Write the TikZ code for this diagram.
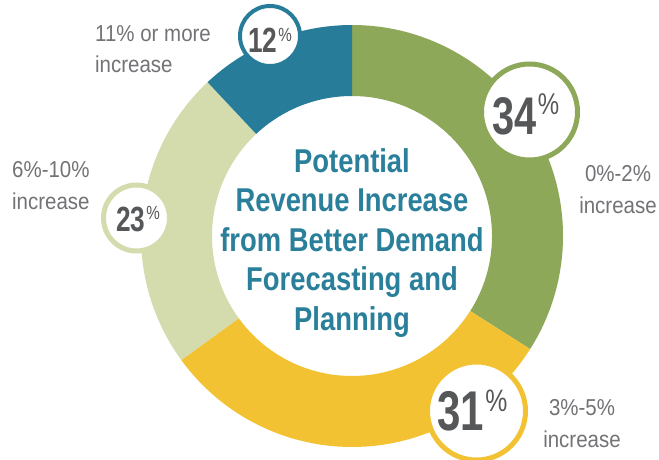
\documentclass[tikz,border=0pt]{standalone}
\usepackage{fontspec}
\setmainfont{Liberation Sans}
\newfontfamily\labfont{Liberation Sans}[FakeStretch=0.89]
\newfontfamily\titfont{Liberation Sans}[FakeStretch=0.83]
\newfontfamily\numfont{Liberation Sans}[FakeStretch=0.75]
\newfontfamily\pctfont{Liberation Sans}[FakeStretch=0.8]
\definecolor{cgreen}{HTML}{8EA85A}
\definecolor{cyellow}{HTML}{F2C232}
\definecolor{clight}{HTML}{D4DBAC}
\definecolor{cblue}{HTML}{277C99}
\definecolor{cteal}{HTML}{2A7F9A}
\definecolor{cnum}{HTML}{555759}
\definecolor{clab}{HTML}{727376}
\newcommand\pctsup[2]{\raisebox{#2pt}{\pctfont\mdseries\fontsize{#1}{#1}\selectfont\%}}
\newcommand\bignum[2]{\numfont\bfseries\fontsize{#1}{#1}\selectfont #2}
\begin{document}
\begin{tikzpicture}[x=1pt,y=1pt,
  bubble/.style={circle, fill=white, inner sep=0pt},
  numtxt/.style={inner sep=0pt, text=cnum},
  lab/.style={inner sep=0pt, text=clab, font=\labfont\fontsize{23}{32}\selectfont},
  title/.style={inner sep=0pt, text=cteal, align=center, font=\titfont\bfseries\fontsize{33}{39.5}\selectfont}]
\useasboundingbox (0,0) rectangle (659,459);
\fill[white] (0,0) rectangle (659,459);
\coordinate (C) at (352,223);
\foreach \a/\b/\c in {90/-32.4/cgreen, -32.4/-144/cyellow, -144/-226.8/clight, -226.8/-270/cblue}
  \fill[\c] ([shift={(\a:211)}]C) arc[start angle=\a, end angle=\b, radius=211]
    -- ([shift={(\b:140)}]C) arc[start angle=\b, end angle=\a, radius=140] -- cycle;
% bubbles
\node[bubble, draw=cblue, line width=4pt, minimum size=60pt] (b12) at (270,423) {};
\node[bubble, draw=cgreen, line width=5pt, minimum size=96pt] (b34) at (529.5,347) {};
\node[bubble, draw=clight, line width=5pt, minimum size=66pt] (b23) at (136.5,241) {};
\node[bubble, draw=cyellow, line width=5pt, minimum size=98pt] (b31) at (476.5,48) {};
% numbers
\node[numtxt] (n12) at (270,418.5) {\bignum{35}{12}\kern1pt\pctsup{19}{11}};
\node[numtxt] (n34) at (526,345) {\bignum{53}{34}\kern1pt\pctsup{30}{20}};
\node[numtxt] (n23) at (138,240) {\bignum{35}{23}\kern1pt\pctsup{19}{12}};
\node[numtxt] (n31) at (472.5,48) {\bignum{56}{31}\kern1pt\pctsup{31}{19}};
% labels (base anchor = last line)
\node[lab, anchor=base west, align=left] (l12) at (95,386) {11\% or more\\increase};
\node[lab, anchor=base west, align=left] (l23) at (12,250) {6\%-10\%\\increase};
\node[lab, anchor=base, align=center] (l34) at (618,246) {0\%-2\%\\increase};
\node[lab, anchor=base, align=center] (l31) at (582,12) {3\%-5\%\\increase};
% title
\node[title, anchor=base] (t) at (352,129) {Potential\\Revenue Increase\\from Better Demand\\Forecasting and\\Planning};
\end{tikzpicture}
\end{document}
